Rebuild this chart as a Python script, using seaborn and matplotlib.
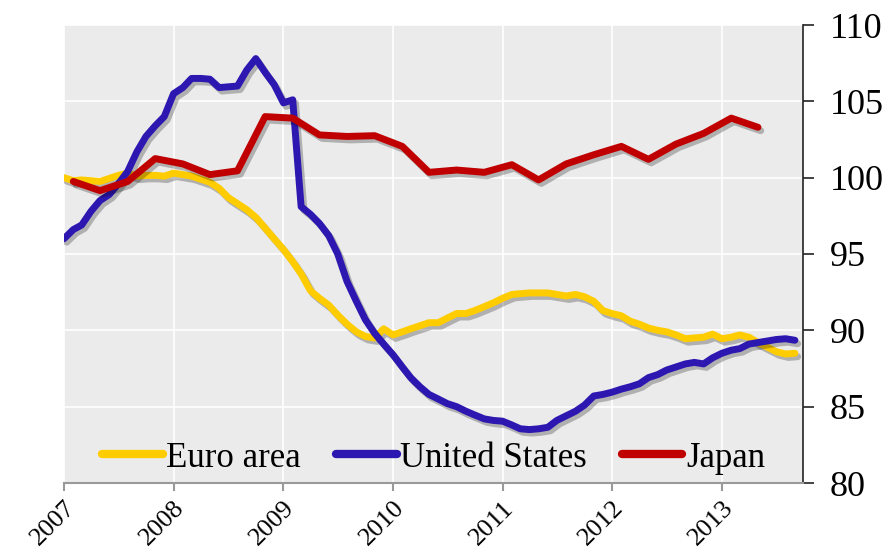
import matplotlib
matplotlib.use("Agg")
import matplotlib.pyplot as plt
import matplotlib.dates as mdates
import matplotlib.patheffects as pe
import pandas as pd
import seaborn as sns

# monthly index, 2007 = 100
euro_area = [
    100.0, 99.8, 99.85, 99.8, 99.75, 99.95, 100.15, 100.3, 100.1, 100.15, 100.15, 100.1,
    100.3, 100.2, 100.1, 99.9, 99.7, 99.3, 98.7, 98.3, 97.9, 97.4, 96.7, 96.0,
    95.3, 94.5, 93.7, 92.6, 92.1, 91.65, 91.0, 90.4, 89.9, 89.6, 89.5, 90.1,
    89.7, 89.9, 90.1, 90.3, 90.5, 90.5, 90.8, 91.1, 91.1, 91.3, 91.55, 91.8,
    92.1, 92.35, 92.4, 92.45, 92.45, 92.45, 92.35, 92.25, 92.35, 92.2, 91.9, 91.3,
    91.1, 90.95, 90.6, 90.4, 90.15, 90.0, 89.9, 89.7, 89.45, 89.5, 89.55, 89.75,
    89.45, 89.55, 89.7, 89.55, 89.2, 88.9, 88.6, 88.45, 88.5,
]
united_states = [
    96.0, 96.6, 96.9, 97.8, 98.5, 98.9, 99.6, 100.4, 101.7, 102.7, 103.4, 104.0,
    105.5, 105.9, 106.5, 106.5, 106.45, 105.9, 105.95, 106.0, 107.05, 107.8, 106.9, 106.1,
    104.9, 105.1, 98.1, 97.6, 97.0, 96.2, 95.0, 93.2, 91.9, 90.7, 89.8, 89.1,
    88.4, 87.6, 86.9, 86.3, 85.8, 85.5, 85.2, 85.0, 84.7, 84.45, 84.2, 84.1,
    84.05, 83.8, 83.55, 83.5, 83.55, 83.65, 84.1, 84.4, 84.7, 85.1, 85.7, 85.8,
    85.95, 86.15, 86.3, 86.5, 86.9, 87.1, 87.4, 87.6, 87.8, 87.9, 87.8, 88.2,
    88.5, 88.7, 88.8, 89.1, 89.2, 89.3, 89.4, 89.45, 89.35,
]
# quarterly
japan = [
    99.75, 99.15, 99.75, 101.25, 100.9, 100.2, 100.45, 104.0, 103.9, 102.8,
    102.7, 102.75, 102.05, 100.35, 100.5, 100.35, 100.85, 99.85, 100.9, 101.5,
    102.05, 101.2, 102.2, 102.9, 103.9, 103.3,
]
monthly = pd.date_range("2007-01-01", periods=len(euro_area), freq="MS")
quarterly = pd.date_range("2007-02-01", periods=len(japan), freq="3MS")

series = [
    ("Euro area", monthly, euro_area, "#ffcc00"),
    ("United States", monthly, united_states, "#2c17b1"),
    ("Japan", quarterly, japan, "#c00000"),
]

sns.set_theme(style="darkgrid", rc={
    "axes.facecolor": "#ebebeb",
    "grid.color": "white",
    "grid.linewidth": 1.2,
})
plt.rcParams["font.family"] = ["Liberation Serif", "DejaVu Serif"]

fig = plt.figure(figsize=(8.96, 5.6), dpi=100)
ax = fig.add_axes([64 / 896, 1 - 483 / 560, (803 - 64) / 896, (483 - 25) / 560])

for name, dates, values, color in series:
    sns.lineplot(x=dates, y=values, ax=ax, color=color, linewidth=5,
                 label=name, solid_capstyle="round", solid_joinstyle="round")

shadow = [pe.SimpleLineShadow(offset=(2, -2.5), alpha=0.25, shadow_color="black"), pe.Normal()]
for line in ax.lines:
    line.set_path_effects(shadow)

ax.set_ylim(80, 110)
ax.set_yticks(range(80, 111, 5))
ax.set_xlim(pd.Timestamp("2007-01-01"), pd.Timestamp("2013-09-28"))
ax.xaxis.set_major_locator(mdates.YearLocator())
ax.xaxis.set_major_formatter(mdates.DateFormatter("%Y"))
ax.set_xlabel("")
ax.set_ylabel("")

ax.yaxis.tick_right()
for side in ["left", "top"]:
    ax.spines[side].set_visible(False)
ax.spines["right"].set_visible(True)
ax.spines["right"].set_color("#222222")
ax.spines["right"].set_linewidth(1.2)
ax.spines["bottom"].set_visible(True)
ax.spines["bottom"].set_color("#999999")
ax.spines["bottom"].set_linewidth(1.5)

ax.tick_params(axis="y", which="major", right=True, left=False, length=8, width=1.2,
               color="#222222", labelsize=26, pad=11, labelcolor="black")
ax.tick_params(axis="x", which="major", bottom=True, length=6, width=1.5,
               color="#999999", labelsize=19, pad=4, labelcolor="black")
for lab in ax.get_xticklabels():
    lab.set_rotation(45)
    lab.set_ha("right")
    lab.set_rotation_mode("anchor")

leg = ax.legend(loc="lower center", bbox_to_anchor=(0.5, -0.05), ncol=3, frameon=False,
                fontsize=25, handlelength=1.75, handletextpad=0.1, columnspacing=1.0,
                labelcolor="black")
for h in leg.get_lines():
    h.set_linewidth(6)
    h.set_path_effects([])

fig.savefig("out.png", dpi=100)
